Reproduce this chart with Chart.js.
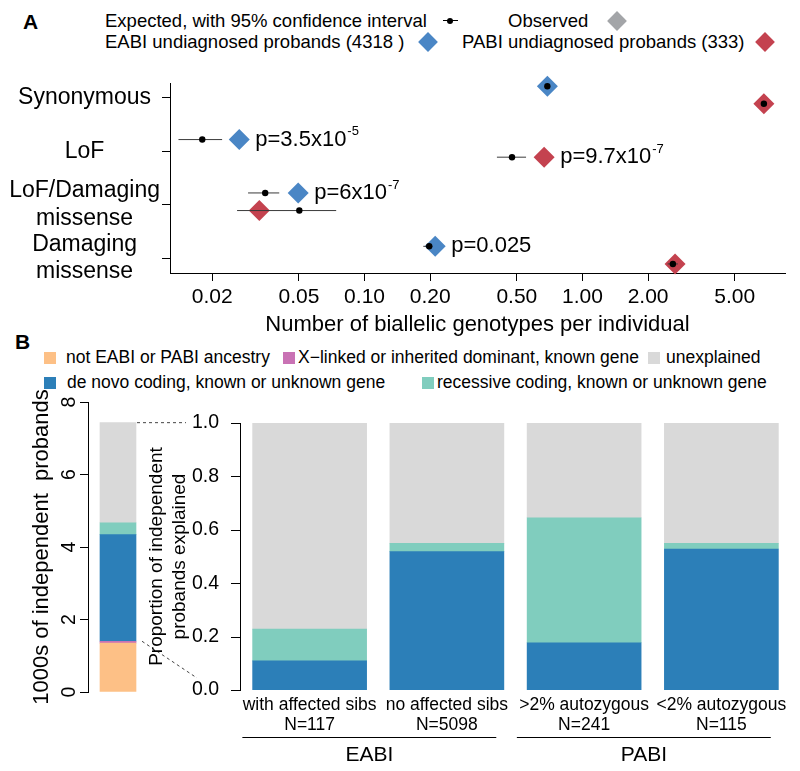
<!DOCTYPE html>
<html>
<head>
<meta charset="utf-8">
<script src="https://cdn.jsdelivr.net/npm/chart.js@4.4.0/dist/chart.umd.min.js"></script>
<style>
  body { margin: 0; background: #fff; font-family: "Liberation Sans", Arial, Helvetica, sans-serif; color: #000; }
  #wrap { position: relative; width: 800px; height: 771px; overflow: hidden; }
  canvas { position: absolute; }
  .t { position: absolute; white-space: nowrap; transform: translateY(-50%); line-height: 1; }
  .dm { position: absolute; width: 14px; height: 14px; transform: translate(-50%, -50%) rotate(45deg); }
  .sq { position: absolute; width: 12px; height: 12px; transform: translateY(-50%); }
</style>
</head>
<body>
<div id="wrap">
  <!-- panel A legend -->
  <div class="t" style="left:23px;top:21px;font-size:21px;font-weight:bold">A</div>
  <div class="t" style="left:105px;top:21px;font-size:18.5px">Expected, with 95% confidence interval</div>
  <div style="position:absolute;left:443px;top:20px;width:15px;height:1px;background:#000"></div>
  <div style="position:absolute;left:447px;top:17.5px;width:6px;height:6px;border-radius:50%;background:#000"></div>
  <div class="t" style="left:508px;top:21px;font-size:18.5px">Observed</div>
  <div class="dm" style="left:617px;top:21px;background:#a3a5a8"></div>
  <div class="t" style="left:105px;top:42px;font-size:18.5px">EABI undiagnosed probands (4318 )</div>
  <div class="dm" style="left:428px;top:42px;background:#4a86c5"></div>
  <div class="t" style="left:462px;top:42px;font-size:18.5px">PABI undiagnosed probands (333)</div>
  <div class="dm" style="left:765px;top:42px;background:#c4424f"></div>

  <!-- panel B legend -->
  <div class="t" style="left:15px;top:341px;font-size:21px;font-weight:bold">B</div>
  <div class="sq" style="left:44px;top:358px;background:#fdc086"></div>
  <div class="t" style="left:66px;top:358px;font-size:17.5px">not EABI or PABI ancestry</div>
  <div class="sq" style="left:283px;top:358px;background:#c972b4"></div>
  <div class="t" style="left:298px;top:358px;font-size:17.5px">X−linked or inherited dominant, known gene</div>
  <div class="sq" style="left:648px;top:358px;background:#d9d9d9"></div>
  <div class="t" style="left:666px;top:358px;font-size:17.5px">unexplained</div>
  <div class="sq" style="left:44px;top:383px;background:#2c7fb8"></div>
  <div class="t" style="left:67px;top:383px;font-size:17.5px">de novo coding, known or unknown gene</div>
  <div class="sq" style="left:422px;top:383px;background:#80cdbe"></div>
  <div class="t" style="left:437px;top:383px;font-size:17.5px">recessive coding, known or unknown gene</div>

  <canvas id="chartA" width="800" height="345" style="left:0;top:0"></canvas>
  <canvas id="chartLeft" width="245" height="391" style="left:0;top:380px"></canvas>
  <canvas id="chartRight" width="800" height="391" style="left:0;top:380px"></canvas>
</div>
<script>
// panel A data
const categories = ['Synonymous', 'LoF', 'LoF/Damaging missense', 'Damaging missense'];
const categoryLines = [['Synonymous'], ['LoF'], ['LoF/Damaging', 'missense'], ['Damaging', 'missense']];
const xTicks = [0.02, 0.05, 0.1, 0.2, 0.5, 1, 2, 5];

const eabiObserved = [0.69, 0.0266, 0.0496, 0.211];
const eabiExpected = [0.69, 0.018, 0.035, 0.198];
const eabiLow = [0.68, 0.014, 0.0292, 0.186];
const eabiHigh = [0.70, 0.0222, 0.0406, 0.205];
const eabiP = [null, 'p=3.5x10^-5', 'p=6x10^-7', 'p=0.025'];

const pabiObserved = [6.8, 0.667, 0.0329, 2.66];
const pabiExpected = [6.8, 0.475, 0.0502, 2.6];
const pabiLow = [6.65, 0.405, 0.026, 2.46];
const pabiHigh = [6.95, 0.551, 0.0741, 2.74];
const pabiP = [null, 'p=9.7x10^-7', null, null];

// panel B data
const parts = ['not EABI or PABI ancestry', 'X−linked or inherited dominant, known gene',
  'de novo coding, known or unknown gene', 'recessive coding, known or unknown gene', 'unexplained'];
const probandsThousands = [1.35, 0.05, 2.94, 0.33, 2.76];

const subsets = ['with affected sibs', 'no affected sibs', '>2% autozygous', '<2% autozygous'];
const subsetN = [117, 5098, 241, 115];
const deNovoShare = [0.109, 0.518, 0.177, 0.528];
const recessiveShare = [0.119, 0.031, 0.468, 0.021];
const unexplainedShare = [0.772, 0.451, 0.355, 0.451];
const groups = ['EABI', 'PABI'];
const groupMembers = [[0, 1], [2, 3]];

const FONT = '"Liberation Sans", Arial, Helvetica, sans-serif';
const partColors = ['#fdc086', '#c972b4', '#2c7fb8', '#80cdbe', '#d9d9d9'];
const EABI_COLOR = '#4a86c5';
const PABI_COLOR = '#c4424f';
const EABI_SHIFT = 0.22;
const PABI_SHIFT = -0.11;

Chart.defaults.font.family = FONT;
Chart.defaults.color = '#000';
Chart.defaults.animation = false;
Chart.defaults.plugins.legend.display = false;
Chart.defaults.plugins.tooltip.enabled = false;

const rowY = i => categories.length - i;

function observedSet(vals, shift, color) {
  return {
    data: vals.map((v, i) => ({ x: v, y: rowY(i) + shift })),
    pointStyle: 'rectRot', pointRadius: 10.5,
    backgroundColor: color, pointBackgroundColor: color, borderWidth: 0, pointBorderWidth: 0,
    order: 3, clip: false
  };
}

function expectedSet(vals, shift) {
  return {
    data: vals.map((v, i) => ({ x: v, y: rowY(i) + shift })),
    pointRadius: 3.2, backgroundColor: '#000', pointBackgroundColor: '#000', pointBorderWidth: 0,
    order: 1, clip: false
  };
}

function ciSets(lo, hi, shift) {
  return lo.map((v, i) => ({
    data: [{ x: v, y: rowY(i) + shift }, { x: hi[i], y: rowY(i) + shift }],
    showLine: true, borderColor: '#3a3a3a', borderWidth: 1, pointRadius: 0, order: 2, clip: false
  }));
}

// p-value text next to the observed diamonds
const pLabels = {
  id: 'pLabels',
  afterDatasetsDraw(chart) {
    const { ctx, scales: { x, y } } = chart;
    ctx.save();
    ctx.fillStyle = '#000';
    ctx.textBaseline = 'middle';
    ctx.textAlign = 'left';
    [[eabiObserved, eabiP, EABI_SHIFT], [pabiObserved, pabiP, PABI_SHIFT]].forEach(([obs, labels, shift]) => {
      labels.forEach((txt, i) => {
        if (!txt) return;
        const [base, exp] = txt.split('^');
        let px = x.getPixelForValue(obs[i]) + 16;
        const py = y.getPixelForValue(rowY(i) + shift);
        ctx.font = '22px ' + FONT;
        ctx.fillText(base, px, py);
        if (exp) {
          px += ctx.measureText(base).width + 1;
          ctx.font = '13px ' + FONT;
          ctx.fillText(exp, px, py - 8);
        }
      });
    });
    ctx.restore();
  }
};

new Chart(document.getElementById('chartA'), {
  type: 'scatter',
  data: {
    datasets: [
      observedSet(eabiObserved, EABI_SHIFT, EABI_COLOR),
      observedSet(pabiObserved, PABI_SHIFT, PABI_COLOR),
      ...ciSets(eabiLow, eabiHigh, EABI_SHIFT),
      ...ciSets(pabiLow, pabiHigh, PABI_SHIFT),
      expectedSet(eabiExpected, EABI_SHIFT),
      expectedSet(pabiExpected, PABI_SHIFT)
    ]
  },
  options: {
    responsive: false,
    layout: { padding: { left: 0, right: 15, top: 83, bottom: 4 } },
    scales: {
      x: {
        type: 'logarithmic', min: 0.0128, max: 8.5,
        afterBuildTicks: s => { s.ticks = xTicks.map(v => ({ value: v })); },
        afterFit: s => { s.height = 68; },
        ticks: { callback: v => Number(v).toFixed(2), font: { size: 21 }, padding: 4, autoSkip: false, maxRotation: 0, minRotation: 0 },
        grid: { drawOnChartArea: false, tickLength: 8, color: '#000' },
        border: { color: '#000' },
        title: { display: true, text: 'Number of biallelic genotypes per individual', font: { size: 22 }, padding: { top: 0, bottom: 3 } }
      },
      y: {
        type: 'linear', min: 0.72, max: 4.28,
        afterBuildTicks: s => { s.ticks = categories.map((c, i) => ({ value: rowY(i) })).reverse(); },
        afterFit: s => { s.width = 170; },
        ticks: {
          callback: v => categoryLines[categories.length - Math.round(v)],
          font: { size: 23, lineHeight: 1.18 }, crossAlign: 'center', padding: 2, autoSkip: false
        },
        grid: { drawOnChartArea: false, tickLength: 8, color: '#000' },
        border: { color: '#000' }
      }
    }
  },
  plugins: [pLabels]
});

// right stacked proportions
function drawRightAxis(ctx, y) {
  // axis line and tick marks of the proportion scale
  const ax = Math.round(y.right);
  ctx.save();
  ctx.fillStyle = '#000';
  ctx.fillRect(ax - 1, y.top, 1, y.bottom - y.top + 1);
  y.ticks.forEach(t => {
    const ty = Math.round(y.getPixelForValue(t.value));
    ctx.fillRect(ax - 10, ty, 10, 1);
  });
  ctx.restore();
}

const rightExtras = {
  id: 'rightExtras',
  afterDraw(chart) {
    const { ctx, chartArea, scales: { x, y } } = chart;
    const unit = x.getPixelForValue(1) - x.getPixelForValue(0);
    drawRightAxis(ctx, y);
    ctx.save();
    ctx.strokeStyle = '#000';
    ctx.fillStyle = '#000';
    ctx.lineWidth = 1;
    ctx.font = '21px ' + FONT;
    ctx.textAlign = 'center';
    ctx.textBaseline = 'middle';
    groups.forEach((g, k) => {
      const m = groupMembers[k];
      const x0 = x.getPixelForValue(m[0]) - 0.49 * unit;
      const x1 = x.getPixelForValue(m[m.length - 1]) + 0.36 * unit;
      const ly = chartArea.bottom + 47.5;
      ctx.beginPath();
      ctx.moveTo(x0, ly);
      ctx.lineTo(x1, ly);
      ctx.stroke();
      ctx.fillText(g, (x0 + x1) / 2, ly + 18);
    });
    ctx.restore();
  }
};

const shareSet = (vals, color) => ({
  data: vals, backgroundColor: color, borderWidth: 0, barThickness: 114
});

const rightChart = new Chart(document.getElementById('chartRight'), {
  type: 'bar',
  data: {
    labels: subsets.map((s, i) => [s, 'N=' + subsetN[i]]),
    datasets: [
      shareSet(deNovoShare, partColors[2]),
      shareSet(recessiveShare, partColors[3]),
      shareSet(unexplainedShare, partColors[4])
    ]
  },
  options: {
    responsive: false,
    layout: { padding: { left: 140, right: 10, top: 43, bottom: 31 } },
    scales: {
      x: {
        stacked: true,
        afterFit: s => { s.height = 50; },
        ticks: { font: { size: 17.5, lineHeight: 1.15 }, padding: 5, autoSkip: false, maxRotation: 0, minRotation: 0 },
        grid: { display: false, drawTicks: false },
        border: { display: false }
      },
      y: {
        stacked: true, min: 0, max: 1,
        afterFit: s => { s.width = 101; },
        ticks: { stepSize: 0.2, callback: v => Number(v).toFixed(1), font: { size: 19.5 }, padding: 13 },
        grid: { display: false, drawTicks: true, tickLength: 9 },
        border: { display: false },
        title: { display: true, text: ['Proportion of independent', 'probands explained'], font: { size: 19, lineHeight: 1.2 }, padding: { top: 5.6 } }
      }
    }
  },
  plugins: [rightExtras]
});

// left stacked bar, thousands of probands
const leftExtras = {
  id: 'leftExtras',
  afterDatasetsDraw(chart) {
    const { ctx, scales: { y } } = chart;
    const bar = chart.getDatasetMeta(0).data[0];
    const right = bar.x + bar.width / 2;
    const total = probandsThousands.reduce((a, b) => a + b, 0);
    const base = probandsThousands[0] + probandsThousands[1];
    ctx.save();
    ctx.strokeStyle = '#444';
    ctx.lineWidth = 1;
    ctx.setLineDash([3, 3]);
    ctx.beginPath();
    ctx.moveTo(right + 1, y.getPixelForValue(total));
    ctx.lineTo(right + 50, y.getPixelForValue(total));
    ctx.moveTo(right + 6, y.getPixelForValue(base));
    ctx.lineTo(right + 61, y.getPixelForValue(0) - 14);
    ctx.stroke();
    ctx.setLineDash([]);
    // rotated tick labels
    ctx.fillStyle = '#000';
    ctx.font = '19.5px ' + FONT;
    ctx.textAlign = 'center';
    ctx.textBaseline = 'middle';
    y.ticks.forEach(t => {
      ctx.save();
      ctx.translate(y.right - 18, y.getPixelForValue(t.value));
      ctx.rotate(-Math.PI / 2);
      ctx.fillText(String(t.value), 0, 0);
      ctx.restore();
    });
    ctx.restore();
    // same canvas origin as the right panel, so its axis can be drawn here too
    drawRightAxis(ctx, rightChart.scales.y);
  }
};

new Chart(document.getElementById('chartLeft'), {
  type: 'bar',
  data: {
    labels: ['all'],
    datasets: parts.map((p, k) => ({
      label: p, data: [probandsThousands[k]], backgroundColor: partColors[k], borderWidth: 0, barThickness: 36
    }))
  },
  options: {
    responsive: false,
    layout: { padding: { left: 0, right: 97, top: 22, bottom: 79 } },
    scales: {
      x: { display: false, stacked: true },
      y: {
        stacked: true, min: 0, max: 8,
        afterFit: s => { s.width = 88; },
        ticks: { stepSize: 2, display: false },
        grid: { drawOnChartArea: false, tickLength: 8, color: '#000' },
        border: { color: '#000' },
        title: { display: true, text: '1000s of independent  probands', font: { size: 22 }, padding: { top: 29 } }
      }
    }
  },
  plugins: [leftExtras]
});
</script>
</body>
</html>
